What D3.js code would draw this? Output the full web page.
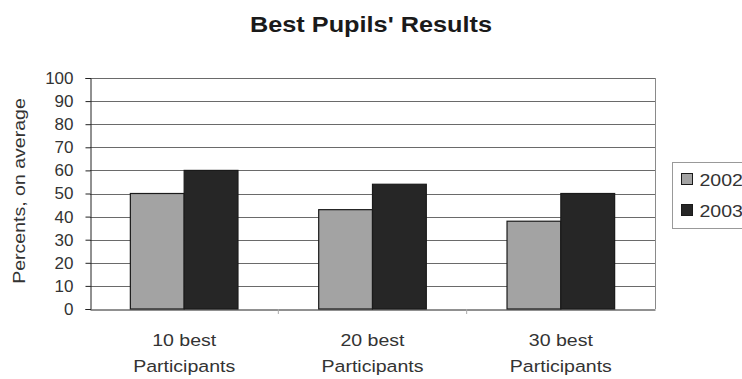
<!DOCTYPE html>
<html>
<head>
<meta charset="utf-8">
<script src="https://cdn.jsdelivr.net/npm/d3@7"></script>
<style>
  body { margin: 0; background: #fff; overflow: hidden; }
  text { font-family: "Liberation Sans", Arial, sans-serif; fill: #2a2a2a; }
</style>
</head>
<body>
<div id="chart"></div>
<script>
var categories = ["10 best|Participants", "20 best|Participants", "30 best|Participants"];
var seriesNames = ["2002", "2003"];
var values2002 = [50, 43, 38];
var values2003 = [60, 54, 50];
var yTicks = [0, 10, 20, 30, 40, 50, 60, 70, 80, 90, 100];
var colors = ["#a3a3a3", "#262626"];

// the reference text is a bit wider than Arial, so stretch it sideways
var stretch = 1.15;

var svg = d3.select("#chart").append("svg")
  .attr("width", 742)
  .attr("height", 379);

// plot area edges
var plotLeft = 90, plotRight = 655, plotTop = 78, plotBottom = 309;

var x = d3.scaleBand().domain(categories).range([plotLeft, plotRight]).paddingInner(0).paddingOuter(0);
var xInner = d3.scaleBand().domain(seriesNames).range([0, x.bandwidth()]).paddingOuter(0.75).paddingInner(0);
var y = d3.scaleLinear().domain([0, 100]).range([plotBottom, plotTop]);

function placeText(sel, tx, ty, extra){
  return sel.attr("transform", "translate(" + tx + "," + ty + ")" + (extra || "") + " scale(" + stretch + ",1)");
}

// gridlines
svg.append("g").selectAll("line")
  .data(yTicks.filter(function(d){ return d > 0; }))
  .enter().append("line")
  .attr("x1", plotLeft).attr("x2", plotRight)
  .attr("y1", function(d){ return Math.round(y(d)) + 0.5; })
  .attr("y2", function(d){ return Math.round(y(d)) + 0.5; })
  .attr("stroke", "#6a6a6a").attr("stroke-width", 1);

// right border of plot area
svg.append("line")
  .attr("x1", plotRight + 0.5).attr("x2", plotRight + 0.5)
  .attr("y1", plotTop).attr("y2", plotBottom)
  .attr("stroke", "#8a8a8a");

// bars
var rows = categories.map(function(c, i){
  return { cat: c, vals: [values2002[i], values2003[i]] };
});
var groups = svg.append("g").selectAll("g")
  .data(rows).enter().append("g")
  .attr("transform", function(d){ return "translate(" + x(d.cat) + ",0)"; });

groups.selectAll("rect")
  .data(function(d){ return d.vals.map(function(v, j){ return { name: seriesNames[j], v: v, j: j }; }); })
  .enter().append("rect")
  .attr("x", function(d){ return xInner(d.name); })
  .attr("width", xInner.bandwidth())
  .attr("y", function(d){ return y(d.v); })
  .attr("height", function(d){ return plotBottom - y(d.v); })
  .attr("fill", function(d){ return colors[d.j]; })
  .attr("stroke", "#1a1a1a").attr("stroke-width", 1.2);

// y axis
var yAxis = svg.append("g")
  .attr("transform", "translate(" + (plotLeft + 0.5) + ",0)")
  .call(d3.axisLeft(y).tickValues(yTicks).tickSize(5).tickPadding(12));
yAxis.select(".domain").attr("stroke", "#222");
yAxis.selectAll(".tick line").attr("stroke", "#222");
yAxis.selectAll("text").style("font-size", "17px").style("fill", "#333")
  .attr("font-family", "Liberation Sans, Arial, sans-serif");

// x axis
var xAxis = svg.append("g")
  .attr("transform", "translate(0," + (plotBottom + 0.5) + ")")
  .call(d3.axisBottom(x).tickSize(0).tickFormat(""));
xAxis.select(".domain").attr("stroke", "#222");

// category separators
svg.append("g").selectAll("line")
  .data(categories.slice(1))
  .enter().append("line")
  .attr("x1", function(d){ return x(d); })
  .attr("x2", function(d){ return x(d); })
  .attr("y1", plotBottom).attr("y2", plotBottom + 5)
  .attr("stroke", "#aaa");

// category labels
var catLabels = svg.append("g").selectAll("g")
  .data(categories).enter().append("g")
  .attr("transform", function(d){ return "translate(" + (x(d) + x.bandwidth() / 2) + ",0)"; });
catLabels.each(function(d){
  var g = d3.select(this);
  d.split("|").forEach(function(line, k){
    placeText(g.append("text"), 0, 346 + k * 26)
      .attr("text-anchor", "middle")
      .style("font-size", "17px").style("fill", "#333")
      .text(line);
  });
});

// title
placeText(svg.append("text"), 371, 32)
  .attr("text-anchor", "middle")
  .style("font-size", "22px").style("font-weight", "bold").style("fill", "#1a1a1a")
  .text("Best Pupils' Results");

// y label
placeText(svg.append("text"), 25, 191, " rotate(-90)")
  .attr("text-anchor", "middle")
  .style("font-size", "17px").style("fill", "#333")
  .text("Percents, on average");

// legend
var legend = svg.append("g");
legend.append("rect")
  .attr("x", 672.5).attr("y", 162.5).attr("width", 90).attr("height", 66)
  .attr("fill", "#fff").attr("stroke", "#999");
var items = legend.selectAll("g.item")
  .data(seriesNames).enter().append("g").attr("class", "item")
  .attr("transform", function(d, i){ return "translate(681.5," + (173.5 + i * 31) + ")"; });
items.append("rect")
  .attr("width", 11).attr("height", 11)
  .attr("fill", function(d, i){ return colors[i]; })
  .attr("stroke", "#1a1a1a");
items.each(function(d){
  placeText(d3.select(this).append("text"), 18, 12)
    .style("font-size", "17px").style("fill", "#333")
    .text(d);
});
</script>
</body>
</html>
